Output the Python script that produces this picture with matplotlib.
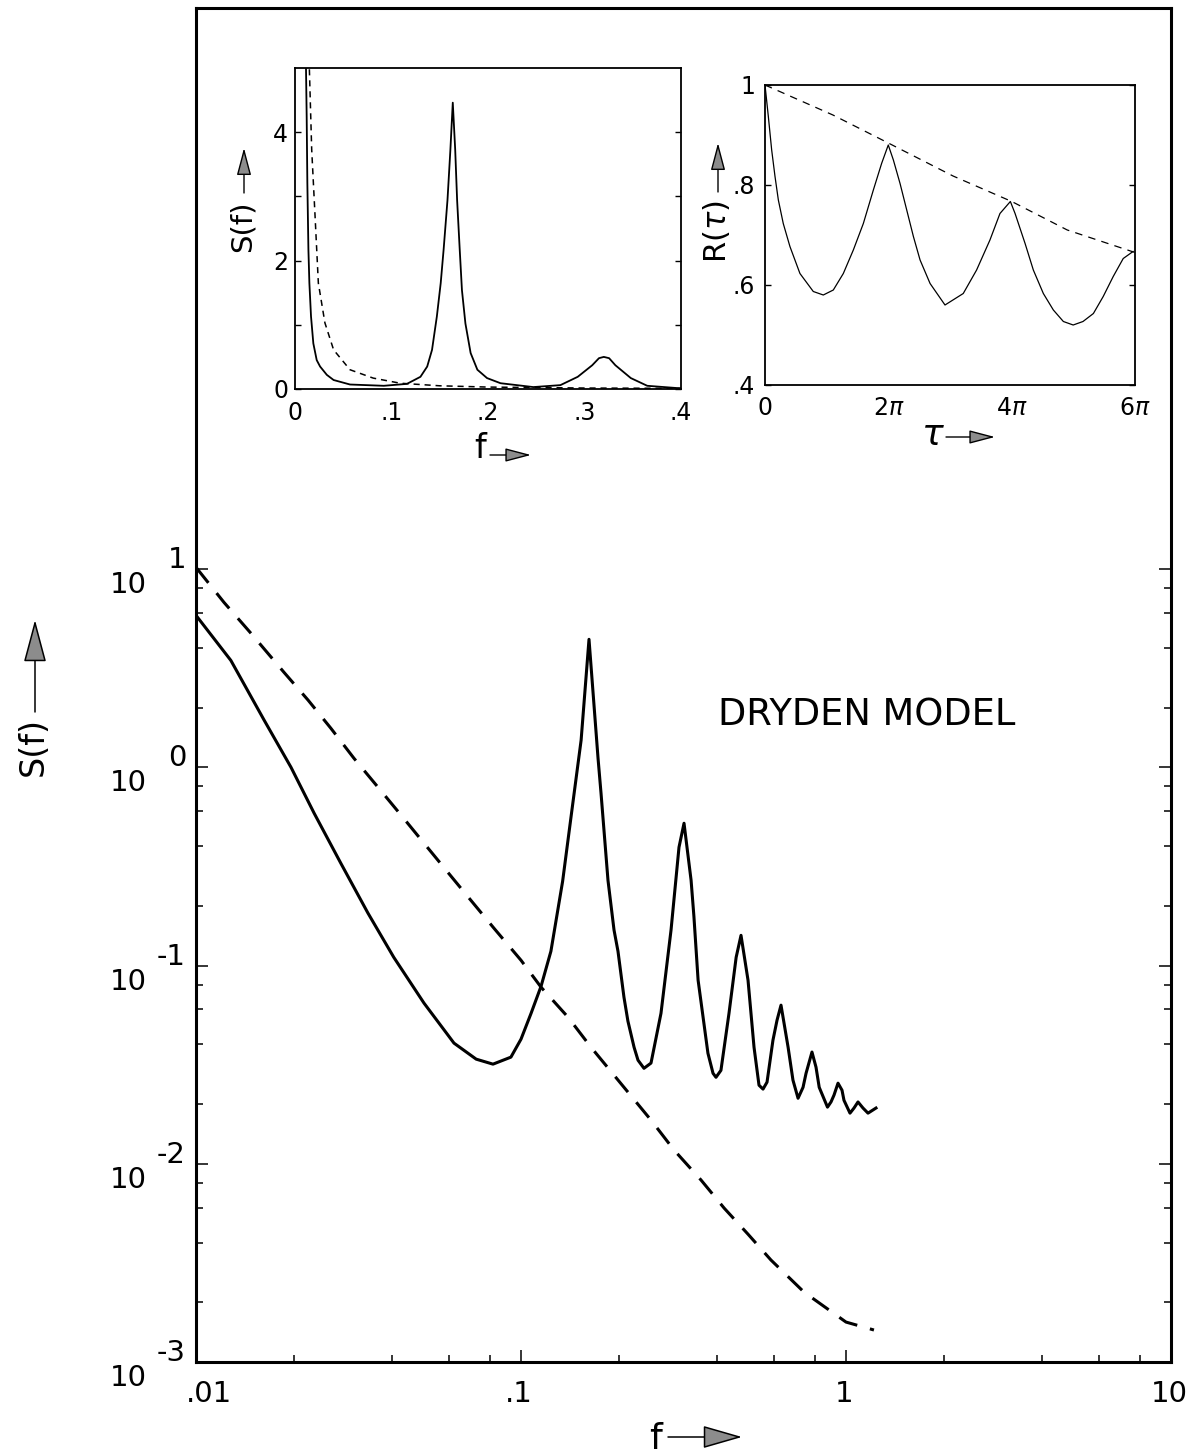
import numpy as np
import matplotlib
matplotlib.use('Agg')
import matplotlib.pyplot as plt
from matplotlib import transforms
from matplotlib.patches import FancyArrowPatch
from matplotlib.ticker import FixedLocator, NullFormatter

# ---- main log-log spectrum ----
f_main = [0.0100, 0.0128, 0.0162, 0.0196, 0.0231, 0.0279, 0.0338, 0.0406, 0.0503, 0.0622,
          0.0728, 0.0820, 0.0931, 0.1000, 0.1074, 0.1153, 0.1236, 0.1343, 0.1425, 0.1531,
          0.1619, 0.1726, 0.1763, 0.1852, 0.1933, 0.1988, 0.2074, 0.2133, 0.2228, 0.2291,
          0.2390, 0.2512, 0.2696, 0.2895, 0.3063, 0.3174, 0.3337, 0.3404, 0.3507, 0.3760,
          0.3898, 0.3981, 0.4123, 0.4365, 0.4592, 0.4753, 0.4995, 0.5212, 0.5399, 0.5555,
          0.5715, 0.5960, 0.6135, 0.6310, 0.6635, 0.6868, 0.7120, 0.7376, 0.7535, 0.7858,
          0.8086, 0.8271, 0.8771, 0.8992, 0.9186, 0.9449, 0.9721, 0.9858, 1.0287, 1.0583,
          1.0887, 1.1280, 1.1687, 1.2368]
s_main = [5.84, 3.46, 1.73, 1.00, 0.586, 0.328, 0.184, 0.110, 0.0646, 0.0406,
          0.0337, 0.0318, 0.0345, 0.0425, 0.0574, 0.0787, 0.118, 0.266, 0.560, 1.37,
          4.42, 1.11, 0.739, 0.269, 0.151, 0.118, 0.0692, 0.0524, 0.0387, 0.0333,
          0.0303, 0.0322, 0.0574, 0.151, 0.395, 0.522, 0.269, 0.1774, 0.0843, 0.0361,
          0.0286, 0.0273, 0.0296, 0.0574, 0.110, 0.142, 0.0843, 0.0387, 0.0249, 0.0238,
          0.0258, 0.0420, 0.0530, 0.0631, 0.0387, 0.0264, 0.0214, 0.0243, 0.0286, 0.0366,
          0.0307, 0.0243, 0.0193, 0.0205, 0.0222, 0.0255, 0.0235, 0.0209, 0.0180, 0.0191,
          0.0205, 0.0191, 0.0180, 0.0191]

f_dry = [0.0100, 0.01219, 0.01476, 0.01866, 0.02213, 0.0260, 0.03062, 0.03631, 0.04277,
         0.05029, 0.05957, 0.07015, 0.08262, 0.100, 0.1153, 0.1395, 0.1642, 0.1932, 0.2512,
         0.2958, 0.3582, 0.4219, 0.4990, 0.5875, 0.7431, 1.000, 1.219]
s_dry = [10.2, 6.79, 4.74, 3.01, 2.18, 1.573, 1.11, 0.793, 0.573,
         0.414, 0.295, 0.213, 0.154, 0.1063, 0.0777, 0.0549, 0.0387, 0.0280, 0.0166,
         0.01172, 0.00827, 0.00597, 0.00442, 0.00327, 0.00225, 0.00159, 0.00145]

x_major = [0.01, 0.1, 1, 10]
x_labels = ['.01', '.1', '1', '10']
x_minor = [0.02, 0.04, 0.06, 0.08, 0.2, 0.4, 0.6, 0.8, 2, 4, 6, 8]
y_exp = [-3, -2, -1, 0, 1]
y_minor = [m * 10.0 ** k for k in [-3, -2, -1, 0] for m in (2, 4, 6, 8)]

# ---- inset 1: linear S(f) ----
f_lin = [0.0114, 0.0121, 0.0128, 0.0139, 0.0149, 0.0166, 0.019, 0.0225, 0.026, 0.033,
         0.040, 0.057, 0.092, 0.116, 0.130, 0.137, 0.142, 0.147, 0.151, 0.154,
         0.158, 0.161, 0.1635, 0.166, 0.168, 0.1707, 0.173, 0.1766, 0.182, 0.189,
         0.199, 0.213, 0.247, 0.275, 0.293, 0.308, 0.315, 0.320, 0.3255, 0.332,
         0.348, 0.365, 0.400]
s_lin = [5.0, 4.24, 3.21, 2.17, 1.65, 1.13, 0.71, 0.45, 0.35, 0.22,
         0.14, 0.07, 0.05, 0.08, 0.19, 0.35, 0.61, 1.13, 1.65, 2.17,
         2.94, 3.72, 4.46, 3.73, 2.94, 2.17, 1.54, 1.02, 0.56, 0.30,
         0.17, 0.09, 0.03, 0.06, 0.19, 0.37, 0.48, 0.50, 0.48, 0.37,
         0.17, 0.05, 0.01]
f_lin_dry = [0.0149, 0.0173, 0.0208, 0.0242, 0.031, 0.040, 0.057, 0.081, 0.109, 0.150,
             0.200, 0.300, 0.400]
s_lin_dry = [4.98, 3.73, 2.69, 1.65, 1.03, 0.61, 0.30, 0.17, 0.09, 0.05,
             0.03, 0.015, 0.01]

# ---- inset 2: correlation R(tau) ----
tau = [0, 0.17, 0.34, 0.51, 0.68, 0.93, 1.27, 1.78, 2.46, 2.97, 3.48, 3.99, 4.50, 5.01,
       5.52, 5.94, 6.28, 6.54, 6.88, 7.22, 7.56, 7.90, 8.41, 9.17, 10.1, 10.78, 11.46,
       11.97, 12.5, 12.74, 13.25, 13.67, 14.18, 14.69, 15.2, 15.7, 16.2, 16.73, 17.23,
       17.74, 18.25, 18.75]
r_tau = [1.0, 0.937, 0.87, 0.817, 0.77, 0.723, 0.677, 0.623, 0.587, 0.58, 0.59, 0.623,
         0.67, 0.723, 0.79, 0.843, 0.88, 0.85, 0.803, 0.75, 0.697, 0.65, 0.603, 0.56,
         0.583, 0.63, 0.69, 0.743, 0.767, 0.743, 0.683, 0.63, 0.583, 0.55, 0.527, 0.52,
         0.527, 0.543, 0.577, 0.617, 0.653, 0.667]
tau_env = [0, 3.46, 6.28, 9.58, 12.57, 15.4, 18.85]
r_env = [1.0, 0.94, 0.884, 0.818, 0.767, 0.71, 0.665]

plt.rcParams['font.family'] = ['DejaVu Sans']
plt.rcParams['mathtext.fontset'] = 'dejavusans'

W, H = 1190, 1456
fig = plt.figure(figsize=(W / 100, H / 100), dpi=100)


def box(left, top, right, bottom):
    return [left / W, 1 - bottom / H, (right - left) / W, (bottom - top) / H]


def shift(dx, dy):
    return transforms.ScaledTranslation(dx / 100, -dy / 100, fig.dpi_scale_trans)


def arrow(x0, y0, x1, y1, hl, hw, lw=1.1):
    fig.add_artist(FancyArrowPatch((x0 / W, 1 - y0 / H), (x1 / W, 1 - y1 / H),
                                   transform=fig.transFigure,
                                   arrowstyle='-|>,head_length=%s,head_width=%s' % (hl, hw),
                                   mutation_scale=10, lw=lw, fc='#8c8c8c', ec='black',
                                   shrinkA=0, shrinkB=0))


# main axes
ax = fig.add_axes(box(196, 8, 1171, 1362))
ax.set_xscale('log')
ax.set_yscale('log')
ax.plot(f_main, s_main, color='black', lw=2.2, solid_joinstyle='round')
ax.plot(f_dry, s_dry, color='black', lw=2.2, ls=(0, (6.5, 4.3)))
ax.set_xlim(0.01, 10)
ax.set_ylim(1e-3, 10 ** 3.83)
ax.xaxis.set_major_locator(FixedLocator(x_major))
ax.xaxis.set_minor_locator(FixedLocator(x_minor))
ax.yaxis.set_major_locator(FixedLocator([10.0 ** k for k in y_exp]))
ax.yaxis.set_minor_locator(FixedLocator(y_minor))
for a in (ax.xaxis, ax.yaxis):
    a.set_major_formatter(NullFormatter())
    a.set_minor_formatter(NullFormatter())
ax.tick_params(which='both', direction='in', left=True, right=True, top=False, bottom=True,
               width=1.1, colors='black')
ax.tick_params(which='major', length=8.5)
ax.tick_params(which='minor', length=5)
for sp in ax.spines.values():
    sp.set_linewidth(2.2)

ytr = transforms.blended_transform_factory(fig.transFigure, ax.transData)
for k in y_exp:
    ax.text(147 / W, 10.0 ** k, '10', transform=ytr + shift(0, 16), ha='right',
            va='center', fontsize=21)
    ax.text(186 / W, 10.0 ** k, str(k), transform=ytr + shift(0, -9), ha='right',
            va='center', fontsize=21)
xtr = transforms.blended_transform_factory(ax.transData, ax.transAxes)
for v, lab in zip(x_major, x_labels):
    if v == x_major[0]:
        ax.text(v, 0, lab, transform=xtr + shift(-10, 32), ha='left', va='center', fontsize=21)
    else:
        ax.text(v, 0, lab, transform=xtr + shift(-2, 32), ha='center', va='center', fontsize=21)

fig.text(718 / W, 1 - 715 / H, 'DRYDEN MODEL', ha='left', va='center', fontsize=26.5)

fig.text(33 / W, 1 - 747 / H, 'S(f)', rotation=90, ha='center', va='center', fontsize=24)
arrow(35, 712, 35, 620, 2.7, 0.72)
fig.text(656 / W, 1 - 1439 / H, 'f', ha='center', va='center', fontsize=26)
arrow(668, 1437, 742, 1437, 2.5, 0.72)

# inset 1
ax1 = fig.add_axes(box(295, 68, 681, 389))
ax1.plot(f_lin, s_lin, color='black', lw=1.3)
ax1.plot(f_lin_dry, s_lin_dry, color='black', lw=1.1, ls=(0, (4, 3.2)))
ax1.set_xlim(0, 0.4)
ax1.set_ylim(0, 5)
ax1.set_xticks([0, 0.1, 0.2, 0.3, 0.4])
ax1.set_xticklabels(['0', '.1', '.2', '.3', '.4'], fontsize=17)
ax1.set_yticks([0, 1, 2, 3, 4])
ax1.set_yticklabels(['0', '', '2', '', '4'], fontsize=17)
ax1.tick_params(axis='y', direction='in', left=True, right=True, length=4, width=1, pad=5)
ax1.tick_params(axis='x', direction='in', length=0, pad=9)
for sp in ax1.spines.values():
    sp.set_linewidth(1.3)
fig.text(243 / W, 1 - 226 / H, 'S(f)', rotation=90, ha='center', va='center', fontsize=21)
arrow(244, 193, 244, 148, 1.7, 0.45, lw=1)
fig.text(480 / W, 1 - 449 / H, 'f', ha='center', va='center', fontsize=24)
arrow(490, 455, 531, 455, 1.6, 0.42, lw=1)

# inset 2
ax2 = fig.add_axes(box(765, 85, 1135, 385))
ax2.plot(tau, r_tau, color='black', lw=0.9)
ax2.plot(tau_env, r_env, color='black', lw=0.9, ls=(0, (6, 5)))
ax2.set_xlim(0, 6 * np.pi)
ax2.set_ylim(0.4, 1.0)
ax2.set_xticks([0, 2 * np.pi, 4 * np.pi, 6 * np.pi])
ax2.set_xticklabels(['0', r'$2\pi$', r'$4\pi$', r'$6\pi$'], fontsize=17)
ax2.set_yticks([0.4, 0.6, 0.8, 1.0])
ax2.set_yticklabels(['.4', '.6', '.8', '1'], fontsize=17)
ax2.tick_params(axis='y', direction='in', left=True, right=True, length=4, width=1, pad=7)
ax2.tick_params(axis='x', direction='in', length=0, pad=8)
for sp in ax2.spines.values():
    sp.set_linewidth(1.3)
fig.text(716 / W, 1 - 232 / H, r'R($\tau$)', rotation=90, ha='center', va='center',
         fontsize=22)
arrow(718, 192, 718, 143, 1.7, 0.45, lw=1)
fig.text(933 / W, 1 - 435 / H, r'$\tau$', ha='center', va='center', fontsize=26)
arrow(946, 437, 995, 437, 1.6, 0.42, lw=1)

fig.savefig('out.png', dpi=100)
